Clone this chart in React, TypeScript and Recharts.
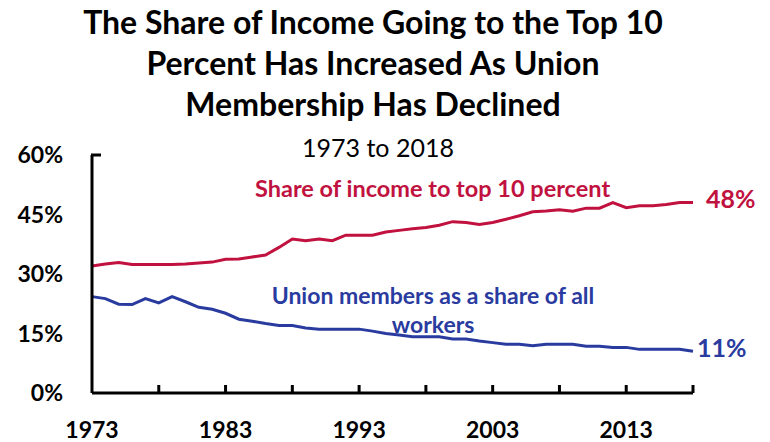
import { LineChart, Line, XAxis, YAxis, LabelList } from 'recharts'

const years = Array.from({ length: 46 }, (_, i) => 1973 + i)

const top10Share = [
  32.0, 32.5, 32.9, 32.4, 32.4, 32.4, 32.4, 32.5, 32.8, 33.0,
  33.7, 33.8, 34.3, 34.8, 36.7, 38.8, 38.4, 38.8, 38.4, 39.8,
  39.8, 39.8, 40.6, 41.0, 41.4, 41.7, 42.3, 43.2, 43.0, 42.5,
  43.0, 43.8, 44.7, 45.7, 45.9, 46.2, 45.8, 46.6, 46.6, 48.0,
  46.7, 47.2, 47.2, 47.5, 48.0, 48.0,
]

const unionShare = [
  24.3, 23.8, 22.4, 22.3, 23.8, 22.7, 24.3, 23.0, 21.6, 21.1,
  20.1, 18.6, 18.1, 17.5, 17.0, 17.0, 16.4, 16.1, 16.1, 16.1,
  16.1, 15.6, 15.0, 14.6, 14.2, 14.2, 14.2, 13.6, 13.6, 13.1,
  12.7, 12.3, 12.3, 11.9, 12.3, 12.3, 12.3, 11.8, 11.8, 11.5,
  11.5, 11.0, 11.0, 11.0, 11.0, 10.5,
]

const xTicks = [1973, 1978, 1983, 1988, 1993, 1998, 2003, 2008, 2013, 2018]
const xLabels = [1973, 1983, 1993, 2003, 2013]
const yTicks = [0, 15, 30, 45, 60]

const RED = '#C1123F'
const BLUE = '#2A3B9F'
const FONT = 'Lato, "Open Sans", sans-serif'
const AXIS_Y = 393

const data = years.map((year, i) => ({ year, top10: top10Share[i], union: unionShare[i] }))

function XTick(props: any) {
  const { x, payload } = props
  const v = payload.value
  return (
    <g>
      {v !== 1973 && <line x1={x} x2={x} y1={AXIS_Y - 8} y2={AXIS_Y} stroke="#000" strokeWidth={3} />}
      {xLabels.includes(v) && (
        <text x={x} y={AXIS_Y + 45} textAnchor="middle" fontSize={23} fontWeight={700} fill="#000" fontFamily={FONT}>
          {v}
        </text>
      )}
    </g>
  )
}

function YTick(props: any) {
  const { y, payload } = props
  const v = payload.value
  return (
    <g>
      {v === 60 && <line x1={91} x2={101} y1={y} y2={y} stroke="#000" strokeWidth={3} />}
      <text x={63} y={y + 8} textAnchor="end" fontSize={23} fontWeight={700} fill="#000" fontFamily={FONT}>
        {v}%
      </text>
    </g>
  )
}

function endLabel(color: string, dx: number, dy: number) {
  return (props: any) => {
    const { x, y, value, index } = props
    if (index !== data.length - 1) return null
    return (
      <text x={x + dx} y={y + dy} fontSize={25} fontWeight={700} fill={color} fontFamily={FONT}>
        {Math.round(value)}%
      </text>
    )
  }
}

export default function App() {
  return (
    <div style={{ position: 'absolute', left: 0, top: 0, width: 770, height: 442, background: '#fff', fontFamily: FONT }}>
      <div
        style={{
          position: 'absolute', left: 0, top: 1, width: 746, textAlign: 'center',
          fontSize: 32, fontWeight: 700, lineHeight: '41px', color: '#000',
        }}
      >
        The Share of Income Going to the Top 10
        <br />
        Percent Has Increased As Union
        <br />
        Membership Has Declined
      </div>
      <div style={{ position: 'absolute', left: 0, top: 131, width: 756, textAlign: 'center', fontSize: 25, color: '#000', lineHeight: '32px' }}>
        1973 to 2018
      </div>
      <div style={{ position: 'absolute', left: 255, top: 173, fontSize: 23.5, fontWeight: 700, color: RED, lineHeight: '30px' }}>
        Share of income to top 10 percent
      </div>
      <div style={{ position: 'absolute', left: 253, top: 281, width: 360, textAlign: 'center', fontSize: 23, fontWeight: 700, color: BLUE, lineHeight: '29px' }}>
        Union members as a share of all
        <br />
        workers
      </div>
      <LineChart width={770} height={442} data={data} margin={{ top: 155, right: 77, bottom: 0, left: 0 }}>
        <XAxis
          dataKey="year"
          type="number"
          domain={[1973, 2018]}
          ticks={xTicks}
          interval={0}
          height={49}
          axisLine={{ stroke: '#000', strokeWidth: 3 }}
          tickLine={false}
          tick={<XTick />}
        />
        <YAxis
          type="number"
          domain={[0, 60]}
          ticks={yTicks}
          interval={0}
          width={92}
          axisLine={{ stroke: '#000', strokeWidth: 3 }}
          tickLine={false}
          tick={<YTick />}
        />
        <Line dataKey="top10" stroke={RED} strokeWidth={3} dot={false} isAnimationActive={false}>
          <LabelList dataKey="top10" content={endLabel(RED, 13, 5)} />
        </Line>
        <Line dataKey="union" stroke={BLUE} strokeWidth={3} dot={false} isAnimationActive={false}>
          <LabelList dataKey="union" content={endLabel(BLUE, 4, 6)} />
        </Line>
      </LineChart>
    </div>
  )
}
